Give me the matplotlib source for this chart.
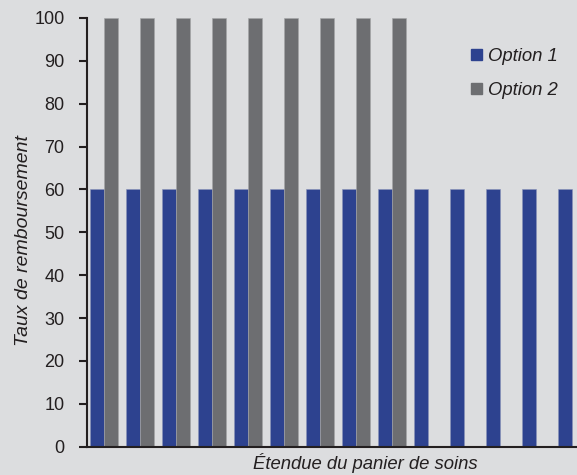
import numpy as np
from matplotlib import pyplot as plt
from matplotlib.patches import Patch

# data ------------------------------------------------------------
categories = np.arange(14)
option1    = [60, 60, 60, 60, 60, 60, 60, 60, 60, 60, 60, 60, 60, 60]
option2    = [100, 100, 100, 100, 100, 100, 100, 100, 100]
yticks     = np.arange(0, 110, 10)
# -----------------------------------------------------------------

bg    = '#dcdddf'
blue  = '#2d428f'
grey  = '#6d6e71'
dark  = '#231f20'
plt.rcParams['font.family'] = ['Liberation Sans', 'DejaVu Sans']

fig = plt.figure(figsize=(5.77, 4.75), dpi=100, facecolor=bg)
ax  = fig.add_axes([0.151, 0.0596, 0.849, 0.9026], facecolor=bg)

w = 0.389
ax.bar(categories - w/2, option1, width=w, color=blue, edgecolor='#8a93b8', linewidth=0.4)
ax.bar(categories[:len(option2)] + w/2, option2, width=w, color=grey, edgecolor='#a5a6a8', linewidth=0.4)

ax.set_xlim(-0.472, 13.14)
ax.set_ylim(0, 100)
ax.set_yticks(yticks)
ax.set_xticks([])
ax.tick_params(axis='y', direction='out', length=5.8, width=1.5, color=dark, labelsize=13, pad=10.5, labelcolor=dark)

for s in ['top', 'right']:
    ax.spines[s].set_visible(False)
for s in ['left', 'bottom']:
    ax.spines[s].set_linewidth(1.5)
    ax.spines[s].set_color(dark)

ax.set_ylabel('Taux de remboursement', fontsize=14, style='italic', color=dark)
ax.yaxis.set_label_coords(-0.13, 0.48, transform=ax.transAxes)
ax.yaxis.label.set_verticalalignment('center')
ax.set_xlabel('Étendue du panier de soins', fontsize=13.3, style='italic', color=dark)
ax.xaxis.set_label_coords(0.567, -0.038, transform=ax.transAxes)
ax.xaxis.label.set_verticalalignment('center')

handles = [Patch(color=blue, label='Option 1'), Patch(color=grey, label='Option 2')]
leg = fig.legend(handles=handles, loc='upper right', bbox_to_anchor=(0.966, 0.899), frameon=False,
                 borderpad=0, borderaxespad=0,
                 handlelength=0.6, handleheight=0.6, handletextpad=0.3, labelspacing=0.92,
                 prop={'size': 13.3, 'style': 'italic'})
for t in leg.get_texts():
    t.set_color(dark)

plt.savefig('out.png', dpi=100, facecolor=bg)
